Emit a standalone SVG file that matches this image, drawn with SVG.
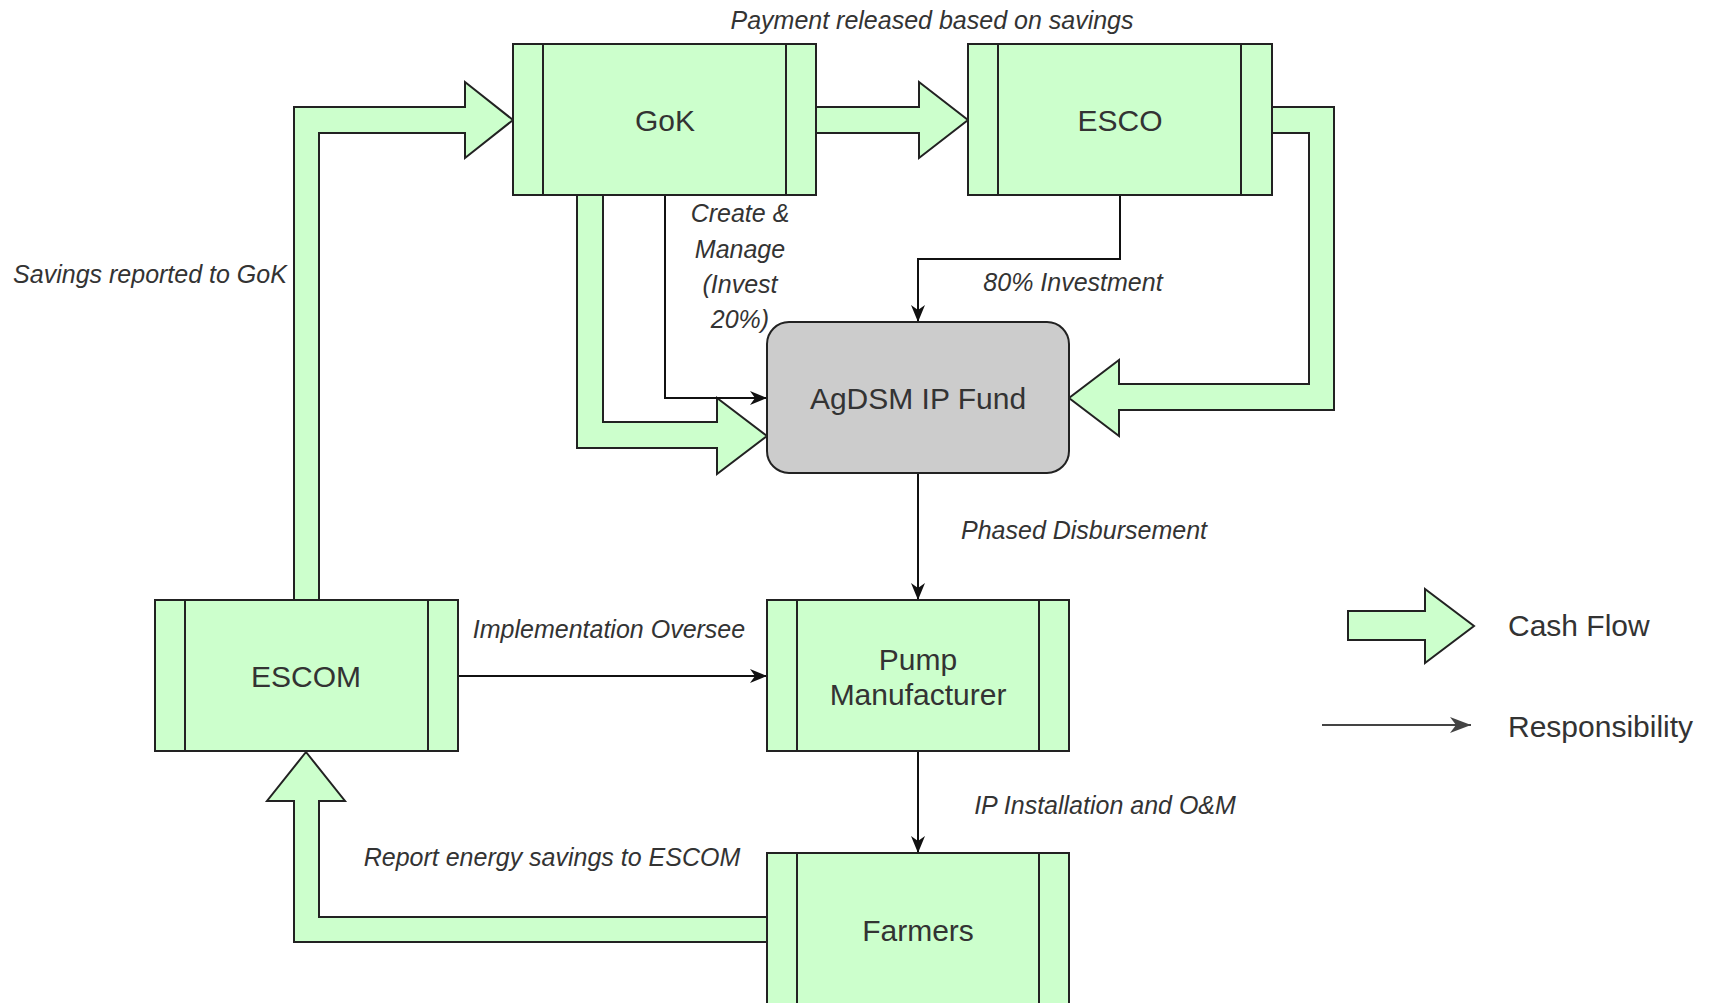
<svg xmlns="http://www.w3.org/2000/svg" width="1709" height="1003" viewBox="0 0 1709 1003">
<style>
.box{fill:#ccffcc;stroke:#222;stroke-width:2}
.bar{stroke:#222;stroke-width:2}
.fund{fill:#cccccc;stroke:#222;stroke-width:2}
.fat{fill:#ccffcc;stroke:#222;stroke-width:2;stroke-linejoin:miter}
.resp{fill:none;stroke:#111;stroke-width:2;marker-end:url(#ah)}
.ntext{font-family:"Liberation Sans",Arial,sans-serif;font-size:30px;fill:#333;text-anchor:middle}
.lbl{font-family:"Liberation Sans",Arial,sans-serif;font-size:25px;font-style:italic;fill:#333;text-anchor:middle}
.leg{font-family:"Liberation Sans",Arial,sans-serif;font-size:30px;fill:#333}
</style>
<defs>
<marker id="ah" markerUnits="userSpaceOnUse" markerWidth="18" markerHeight="16" refX="17" refY="8" orient="auto">
<path d="M0,1 L17,8 L0,15 L5,8 z" fill="#111"/>
</marker>
<marker id="ahg" markerUnits="userSpaceOnUse" markerWidth="22" markerHeight="18" refX="21" refY="9" orient="auto">
<path d="M0,1 L21,9 L0,17 L6,9 z" fill="#444"/>
</marker>
</defs>
<rect width="1709" height="1003" fill="#ffffff"/>
<g id="connectors">
<polygon class="fat" points="294,600 294,107 465,107 465,82 513,120 465,158 465,133 319,133 319,600"/>
<polygon class="fat" points="816,107 919,107 919,82 968,120 919,158 919,133 816,133"/>
<polygon class="fat" points="1272,107 1334,107 1334,410 1119,410 1119,436 1069,398 1119,360 1119,384 1309,384 1309,133 1272,133"/>
<polygon class="fat" points="577,195 577,448 717,448 717,474 767,436 717,398 717,422 603,422 603,195"/>
<polygon class="fat" points="767,917 319,917 319,801 345,801 306,752 267,801 294,801 294,942 767,942"/>
<path class="resp" d="M665,195 V398 H767"/>
<path class="resp" d="M1120,195 V259 H918 V322"/>
<path class="resp" d="M918,473 V600"/>
<path class="resp" d="M458,676 H767"/>
<path class="resp" d="M918,751 V853"/>
<text class="lbl" x="932" y="29">Payment released based on savings</text>
<text class="lbl" x="740" y="222">Create &amp;</text>
<text class="lbl" x="740" y="258">Manage</text>
<text class="lbl" x="740" y="293">(Invest</text>
<text class="lbl" x="740" y="328">20%)</text>
<text class="lbl" x="1073" y="291">80% Investment</text>
<text class="lbl" x="1084" y="539">Phased Disbursement</text>
<text class="lbl" x="609" y="638">Implementation Oversee</text>
<text class="lbl" x="1105" y="814">IP Installation and O&amp;M</text>
<text class="lbl" x="552" y="866">Report energy savings to ESCOM</text>
<text class="lbl" x="150" y="283">Savings reported to GoK</text>
</g>
<g id="gok">
<rect class="box" x="513" y="44" width="303" height="151"/>
<line class="bar" x1="543" y1="44" x2="543" y2="195"/>
<line class="bar" x1="786" y1="44" x2="786" y2="195"/>
<text class="ntext" x="665" y="131">GoK</text>
</g>
<g id="esco">
<rect class="box" x="968" y="44" width="304" height="151"/>
<line class="bar" x1="998" y1="44" x2="998" y2="195"/>
<line class="bar" x1="1241" y1="44" x2="1241" y2="195"/>
<text class="ntext" x="1120" y="131">ESCO</text>
</g>
<g id="fund">
<rect class="fund" x="767" y="322" width="302" height="151" rx="22" ry="22"/>
<text class="ntext" x="918" y="409">AgDSM IP Fund</text>
</g>
<g id="escom">
<rect class="box" x="155" y="600" width="303" height="151"/>
<line class="bar" x1="185" y1="600" x2="185" y2="751"/>
<line class="bar" x1="428" y1="600" x2="428" y2="751"/>
<text class="ntext" x="306" y="687">ESCOM</text>
</g>
<g id="pump">
<rect class="box" x="767" y="600" width="302" height="151"/>
<line class="bar" x1="797" y1="600" x2="797" y2="751"/>
<line class="bar" x1="1039" y1="600" x2="1039" y2="751"/>
<text class="ntext" x="918" y="670">Pump</text>
<text class="ntext" x="918" y="705">Manufacturer</text>
</g>
<g id="farmers">
<rect class="box" x="767" y="853" width="302" height="152"/>
<line class="bar" x1="797" y1="853" x2="797" y2="1005"/>
<line class="bar" x1="1039" y1="853" x2="1039" y2="1005"/>
<text class="ntext" x="918" y="941">Farmers</text>
</g>
<g id="legend">
<polygon class="fat" stroke-linejoin="round" points="1348,611 1425,611 1425,589 1474,626 1425,663 1425,640 1348,640"/>
<text class="leg" x="1508" y="636">Cash Flow</text>
<path d="M1322,725 H1471" fill="none" stroke="#444" stroke-width="2" marker-end="url(#ahg)"/>
<text class="leg" x="1508" y="737">Responsibility</text>
</g>
</svg>
